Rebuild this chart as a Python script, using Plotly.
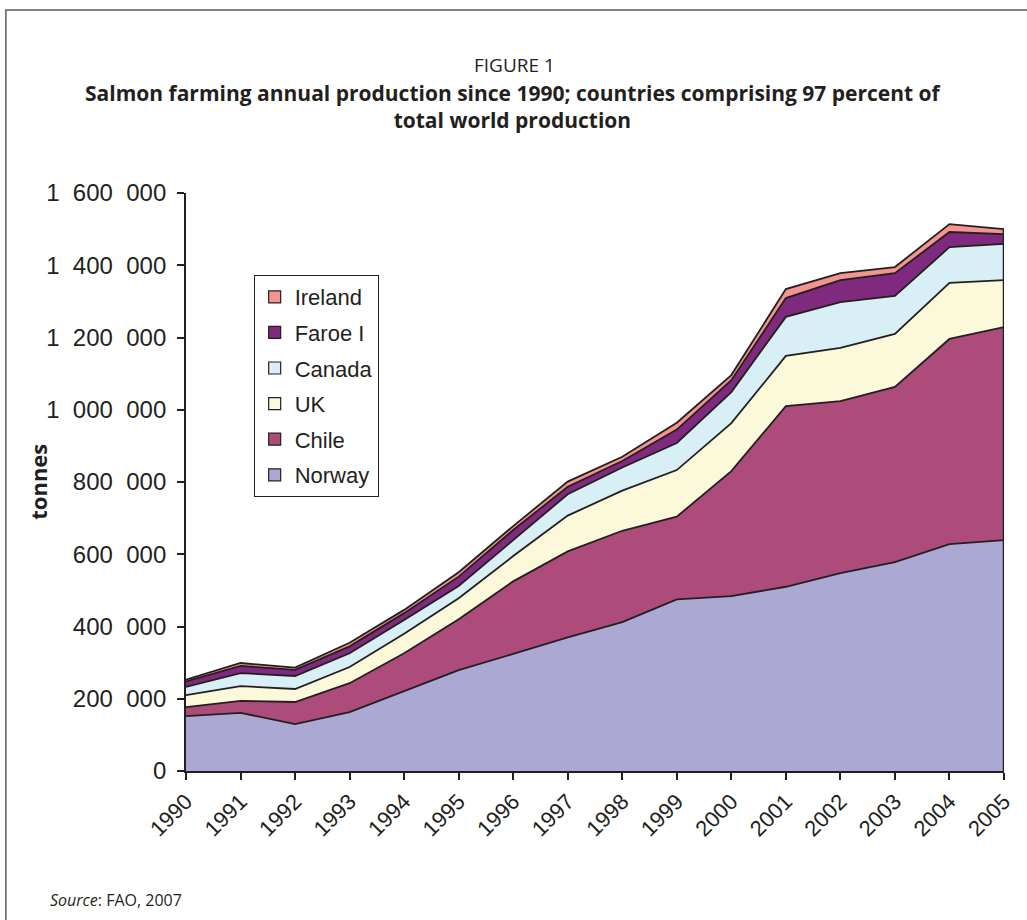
import plotly.graph_objects as go

# ---- data (tonnes) ----
years = list(range(1990, 2006))
norway = [152000, 161000, 130000, 163000, 221000, 279000, 324000, 370000,
          412000, 475000, 484000, 510000, 548000, 578000, 628000, 639000]
chile = [25000, 33000, 61000, 80000, 105000, 141000, 201000, 238000,
         253000, 229000, 346000, 500000, 476000, 485000, 568000, 590000]
uk = [33000, 41000, 36000, 45000, 54000, 58000, 70000, 99000,
      111000, 129000, 133000, 139000, 147000, 147000, 155000, 130000]
canada = [23000, 36000, 36000, 38000, 38000, 34000, 44000, 59000,
          64000, 75000, 86000, 108000, 127000, 105000, 99000, 100000]
faroe = [15000, 20000, 17000, 19000, 19000, 26000, 28000, 21000,
         18000, 37000, 33000, 52000, 61000, 63000, 42000, 27000]
ireland = [5000, 8000, 6000, 10000, 9000, 12000, 11000, 14000,
           12000, 19000, 14000, 25000, 19000, 17000, 22000, 14000]

series_names = ["Norway", "Chile", "UK", "Canada", "Faroe I", "Ireland"]
series_values = [norway, chile, uk, canada, faroe, ireland]
series_colors = ["#aba8d3", "#ad4b7b", "#fcf8da", "#d9eff6", "#7f2a7e", "#f4938f"]

year_labels = [str(y) for y in years]
y_tick_vals = [0, 200000, 400000, 600000, 800000, 1000000, 1200000, 1400000, 1600000]
y_tick_labels = ["0", "200\u2007000", "400\u2007000", "600\u2007000", "800\u2007000",
                 "1\u2007000\u2007000", "1\u2007200\u2007000", "1\u2007400\u2007000",
                 "1\u2007600\u2007000"]

DARK = "#231f20"
ARIAL = "Liberation Sans, Arial, sans-serif"
TITLEFONT = "Open Sans, sans-serif"

fig = go.Figure()

# stacked areas (bottom to top)
for name, vals, col in zip(series_names, series_values, series_colors):
    fig.add_trace(go.Scatter(
        x=years, y=vals, name=name, mode="lines", stackgroup="one",
        line=dict(color=DARK, width=1.8), fillcolor=col,
        showlegend=False, hoverinfo="x+y+name"))

# right-hand closing edge of the stack
total_last = sum(v[-1] for v in series_values)
fig.add_trace(go.Scatter(x=[years[-1], years[-1]], y=[0, total_last], mode="lines",
                         line=dict(color=DARK, width=2.5), showlegend=False,
                         hoverinfo="skip"))

# legend entries (square swatches), top entry = top layer
for i, (name, col) in enumerate(reversed(list(zip(series_names, series_colors)))):
    fig.add_trace(go.Scatter(
        x=[None], y=[None], name=name, mode="markers", legendgroup="g%d" % i,
        marker=dict(symbol="square", size=12, color=col, line=dict(color=DARK, width=1.2)),
        showlegend=True))

W, H = 1027, 920
L, R, T, B = 186, 19, 193, 149
pw, ph = W - L - R, H - T - B


def px(x):
    return (x - L) / pw


def py(y):
    return (H - B - y) / ph


fig.update_layout(
    width=W, height=H, autosize=False,
    margin=dict(l=L, r=R, t=T, b=B, pad=0),
    paper_bgcolor="white", plot_bgcolor="white",
    showlegend=True,
    legend=dict(
        x=px(254), y=py(275), xanchor="left", yanchor="top",
        bordercolor=DARK, borderwidth=1, bgcolor="white",
        font=dict(family=ARIAL, size=22, color=DARK),
        traceorder="grouped", tracegroupgap=4, itemwidth=30,
    ),
    xaxis=dict(
        range=[years[0], years[-1]], tickmode="array", tickvals=years, ticktext=year_labels,
        tickangle=-45, ticks="outside", ticklen=7, tickwidth=1.5, tickcolor=DARK,
        showline=True, linecolor=DARK, linewidth=1.8, showgrid=False, zeroline=False,
        tickfont=dict(family=ARIAL, size=22, color=DARK),
    ),
    yaxis=dict(
        range=[0, 1600000], tickmode="array", tickvals=y_tick_vals, ticktext=y_tick_labels,
        ticks="outside", ticklen=7, tickwidth=1.5, tickcolor=DARK,
        showline=True, linecolor=DARK, linewidth=1.8, showgrid=False, zeroline=False,
        tickfont=dict(family=ARIAL, size=24, color=DARK), ticklabelstandoff=6,
    ),
    shapes=[dict(type="rect", xref="paper", yref="paper",
                 x0=px(5), x1=px(1040), y0=py(935), y1=py(10),
                 line=dict(color="#5a5a5a", width=1.5), fillcolor="rgba(0,0,0,0)",
                 layer="below")],
    annotations=[
        dict(text="FIGURE 1", x=px(516), y=py(65), xref="paper", yref="paper",
             showarrow=False, xanchor="center", yanchor="middle",
             font=dict(family=TITLEFONT, size=19, color=DARK)),
        dict(text="<b>Salmon farming annual production since 1990; countries comprising 97 percent of"
                  "<br>total world production</b>",
             x=px(515), y=py(106.5), xref="paper", yref="paper",
             showarrow=False, xanchor="center", yanchor="middle", align="center",
             font=dict(family=TITLEFONT, size=21, color=DARK)),
        dict(text="<b>tonnes</b>", x=px(37), y=py(482), xref="paper", yref="paper",
             showarrow=False, xanchor="center", yanchor="middle", textangle=-90,
             font=dict(family=TITLEFONT, size=22, color=DARK)),
        dict(text="<i>Source</i>: FAO, 2007", x=px(47), y=py(900), xref="paper", yref="paper",
             showarrow=False, xanchor="left", yanchor="middle",
             font=dict(family=TITLEFONT, size=16, color=DARK)),
    ],
)

fig.write_html("out.html")
